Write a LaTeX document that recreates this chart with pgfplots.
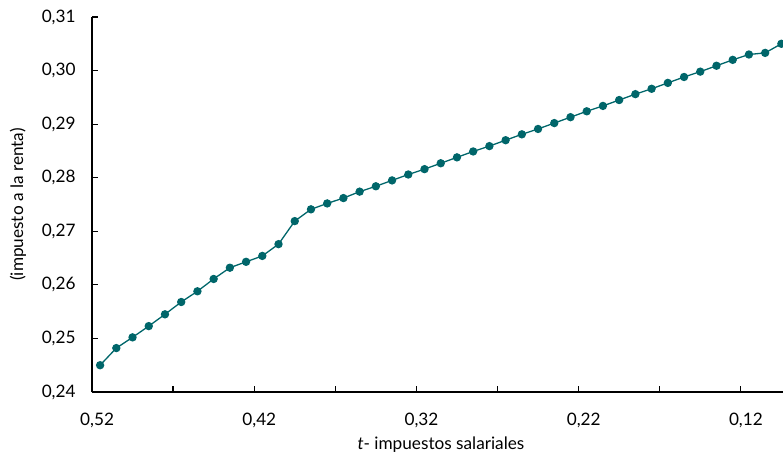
\documentclass[border=0pt]{standalone}
\usepackage{pgfplots}
\pgfplotsset{compat=1.18}
\usepackage{fontspec}
\setmainfont{Lato}
\definecolor{teal1}{HTML}{00666A}
\begin{document}
\fontsize{8.6bp}{10bp}\selectfont
\begin{tikzpicture}
\begin{axis}[
  scale only axis,
  width=345.5bp, height=187.5bp,
  x dir=reverse,
  xmin=0.099, xmax=0.525,
  ymin=0.24, ymax=0.31,
  axis x line=bottom, axis y line=left,
  axis line style={black, line width=0.7bp, -},
  tick align=inside,
  major tick length=3bp,
  tick style={black, line width=0.6bp},
  xtick={0.525,0.475,0.425,0.375,0.325,0.275,0.225,0.175,0.125},
  xticklabels={},
  extra x ticks={0.52,0.42,0.32,0.22,0.12},
  extra x tick labels={{0,52},{0,42},{0,32},{0,22},{0,12}},
  extra x tick style={major tick length=0pt, tick label style={anchor=center, yshift=-14bp, xshift=-1.5bp}},
  ytick={0.24,0.25,0.26,0.27,0.28,0.29,0.30,0.31},
  yticklabel style={anchor=east, inner sep=0pt, xshift=-8bp, /pgf/number format/.cd, fixed, fixed zerofill, precision=2, use comma, assume math mode=true},
  xlabel={\textit{t}- impuestos salariales},
  ylabel={(impuesto a la renta)},
  xlabel style={at={(axis description cs:0.505,-0.1413)}, anchor=center},
  ylabel style={at={(axis description cs:-0.107,0.5)}, anchor=center},
  clip=false,
]
\addplot[color=teal1, line width=0.65bp, mark=*, mark size=1.75bp, mark options={fill=teal1, draw=teal1}] coordinates {
(0.52,0.2450) (0.51,0.2482) (0.50,0.2502) (0.49,0.2523) (0.48,0.2545)
(0.47,0.2568) (0.46,0.2588) (0.45,0.2611) (0.44,0.2632) (0.43,0.2643)
(0.42,0.2654) (0.41,0.2676) (0.40,0.2719) (0.39,0.2741) (0.38,0.2752)
(0.37,0.2762) (0.36,0.2774) (0.35,0.2784) (0.34,0.2795) (0.33,0.2806)
(0.32,0.2816) (0.31,0.2827) (0.30,0.2838) (0.29,0.2849) (0.28,0.2859)
(0.27,0.2870) (0.26,0.2881) (0.25,0.2891) (0.24,0.2902) (0.23,0.2913)
(0.22,0.2924) (0.21,0.2934) (0.20,0.2945) (0.19,0.2956) (0.18,0.2966)
(0.17,0.2977) (0.16,0.2988) (0.15,0.2998) (0.14,0.3009) (0.13,0.3020)
(0.12,0.3030) (0.11,0.3033) (0.10,0.3050)
};
\coordinate (sw) at (rel axis cs:0,0);
\coordinate (ne) at (rel axis cs:1,1);
\end{axis}
\pgfresetboundingbox
\path[use as bounding box] ([shift={(-46bp,-32bp)}]sw) rectangle ([shift={(0bp,8.5bp)}]ne);
\end{tikzpicture}
\end{document}
